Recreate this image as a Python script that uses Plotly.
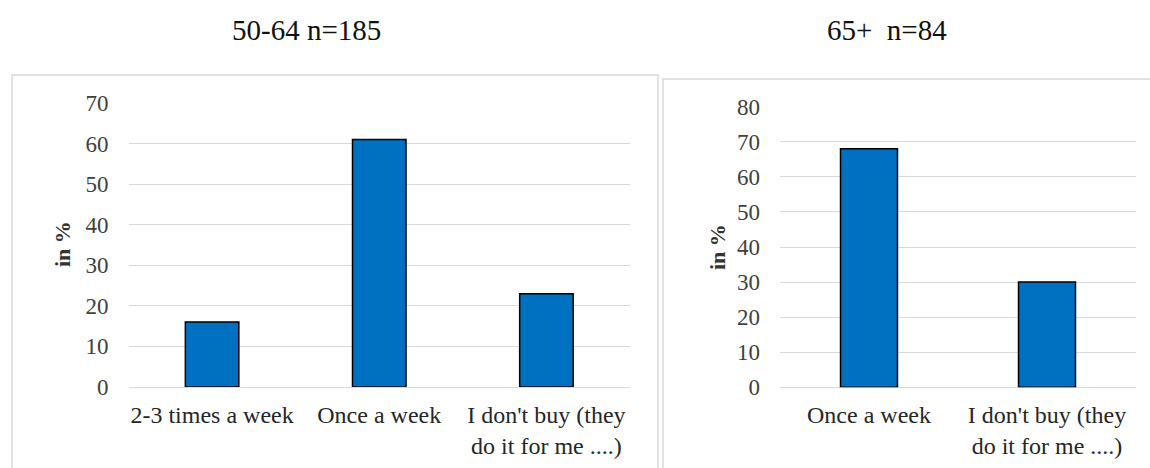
import plotly.graph_objects as go

# Shopping frequency by age group (percent of respondents)
cats_50_64 = ["2-3 times a week", "Once a week", "I don't buy (they<br>do it for me ....)"]
vals_50_64 = [16, 61, 23]
title_50_64 = "50-64 n=185"

cats_65 = ["Once a week", "I don't buy (they<br>do it for me ....)"]
vals_65 = [68, 30]
title_65 = "65+  n=84"

y_ticks_50_64 = [0, 10, 20, 30, 40, 50, 60, 70]
y_ticks_65 = [0, 10, 20, 30, 40, 50, 60, 70, 80]

W, H = 1150, 468
SERIF = "Liberation Serif"
BAR = "#0070C0"
GRID = "#d9d9d9"


def px_x(v):
    return v / W


def px_y(v):
    return 1 - v / H


fig = go.Figure()
fig.add_trace(go.Bar(x=cats_50_64, y=vals_50_64, width=0.32,
                     marker=dict(color=BAR, line=dict(color="#000000", width=1.5)),
                     xaxis="x", yaxis="y", showlegend=False))
fig.add_trace(go.Bar(x=cats_65, y=vals_65, width=0.32,
                     marker=dict(color=BAR, line=dict(color="#000000", width=1.5)),
                     xaxis="x2", yaxis="y2", showlegend=False))

xcommon = dict(showgrid=False, zeroline=False, showline=False, automargin=False,
               ticks="outside", ticklen=6, tickcolor="rgba(0,0,0,0)",
               tickfont=dict(family=SERIF, size=24, color="#262626"))
ycommon = dict(showgrid=True, gridcolor=GRID, gridwidth=1.2, zeroline=True,
               zerolinecolor=GRID, zerolinewidth=1.2, showline=False, automargin=False,
               ticks="", ticklabelstandoff=19,
               tickfont=dict(family=SERIF, size=23, color="#404040"))

fig.update_layout(
    template="none",
    width=W, height=H,
    margin=dict(l=0, r=0, t=0, b=0, pad=0, autoexpand=False),
    paper_bgcolor="white", plot_bgcolor="white",
    font=dict(family=SERIF),
    xaxis=dict(domain=[px_x(128.5), px_x(630)], anchor="y", **xcommon),
    yaxis=dict(domain=[px_y(387), px_y(103)], anchor="x", range=[0, 70],
               tickvals=y_ticks_50_64, **ycommon),
    xaxis2=dict(domain=[px_x(780), px_x(1136)], anchor="y2", **xcommon),
    yaxis2=dict(domain=[px_y(387.3), px_y(106.7)], anchor="x2", range=[0, 80],
                tickvals=y_ticks_65, **ycommon),
    bargap=0.68,
)

# panel frames
fig.add_shape(type="rect", xref="paper", yref="paper",
              x0=px_x(12), x1=px_x(658), y0=-0.05, y1=px_y(75),
              line=dict(color="#d9d9d9", width=1.5), fillcolor="rgba(0,0,0,0)", layer="below")
fig.add_shape(type="rect", xref="paper", yref="paper",
              x0=px_x(663), x1=1.05, y0=-0.05, y1=px_y(79),
              line=dict(color="#d9d9d9", width=1.5), fillcolor="rgba(0,0,0,0)", layer="below")

# panel titles
for txt, cx in [(title_50_64, 306), (title_65, 887)]:
    fig.add_annotation(text=txt, xref="paper", yref="paper", x=px_x(cx), y=px_y(30),
                       xanchor="center", yanchor="middle", showarrow=False,
                       font=dict(family=SERIF, size=29, color="#111111"))

# y-axis titles
for cx, cy in [(62, 244), (717, 247)]:
    fig.add_annotation(text="<b>in %</b>", xref="paper", yref="paper", x=px_x(cx), y=px_y(cy),
                       xanchor="center", yanchor="middle", showarrow=False, textangle=-90,
                       font=dict(family=SERIF, size=22, color="#333333"))

fig.write_html("out.html")
